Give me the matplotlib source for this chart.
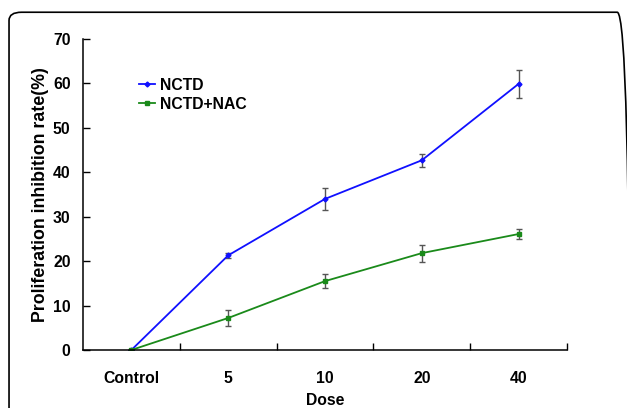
import matplotlib
matplotlib.use("Agg")
import matplotlib.pyplot as plt
from matplotlib.patches import FancyBboxPatch

# data
doses = ["Control", "5", "10", "20", "40"]
nctd = [0, 21.3, 34.0, 42.7, 59.9]
nctd_err = [0, 0.6, 2.4, 1.4, 3.1]
nac = [0, 7.2, 15.5, 21.8, 26.1]
nac_err = [0, 1.8, 1.5, 1.9, 1.2]

plt.rcParams['font.family'] = ['Liberation Sans', 'DejaVu Sans']
plt.rcParams['font.weight'] = 'bold'

fig = plt.figure(figsize=(6.27, 4.08), dpi=100)
ax = fig.add_axes([0.1324, 0.1422, 0.7719, 0.7622])

# rounded frame around the figure
frame = FancyBboxPatch((0.0144, -0.2), 0.99, 1.17,
                       boxstyle="round,pad=0,rounding_size=0.02",
                       transform=fig.transFigure, fill=False,
                       edgecolor='black', linewidth=1.2, clip_on=False)
fig.patches.append(frame)

x = range(len(doses))
ax.errorbar(x, nctd, yerr=nctd_err, fmt='none', ecolor='#555555',
            elinewidth=1, capsize=2.3, capthick=1)
ax.errorbar(x, nac, yerr=nac_err, fmt='none', ecolor='#555555',
            elinewidth=1, capsize=2.3, capthick=1)
ax.plot(x, nctd, color='#1010ff', marker='D', markersize=2.5,
        linewidth=1.3, label='NCTD')
ax.plot(x, nac, color='#1a8a1a', marker='s', markersize=2.5,
        linewidth=1.3, label='NCTD+NAC')

ax.set_xlim(-0.5, 4.5)
ax.set_ylim(0, 70)
ax.set_yticks(range(0, 71, 10))
ax.set_xticks([i + 0.5 for i in range(5)])
ax.set_xticklabels([])
ax.set_xticks(list(x), minor=True)
ax.set_xticklabels(doses, minor=True)
ax.tick_params(axis='x', which='major', direction='in', length=5, width=1)
ax.tick_params(axis='x', which='minor', length=0, pad=15, labelsize=11.3)
ax.tick_params(axis='y', direction='in', length=5, width=1, pad=9, labelsize=11.3)

for s in ['top', 'right']:
    ax.spines[s].set_visible(False)
for s in ['left', 'bottom']:
    ax.spines[s].set_linewidth(1.1)

ax.set_ylabel('Proliferation inhibition rate(%)', fontsize=12.8, fontweight='bold', labelpad=3)
ax.set_xlabel('Dose', fontsize=11.3, fontweight='bold')
ax.xaxis.set_label_coords(0.5, -0.138)

ax.legend(loc='upper left', bbox_to_anchor=(0.103, 0.895), frameon=False,
          fontsize=11.3, handlelength=1.0, handletextpad=0.35, labelspacing=0.25,
          borderaxespad=0)

fig.savefig('out.png', dpi=100)
